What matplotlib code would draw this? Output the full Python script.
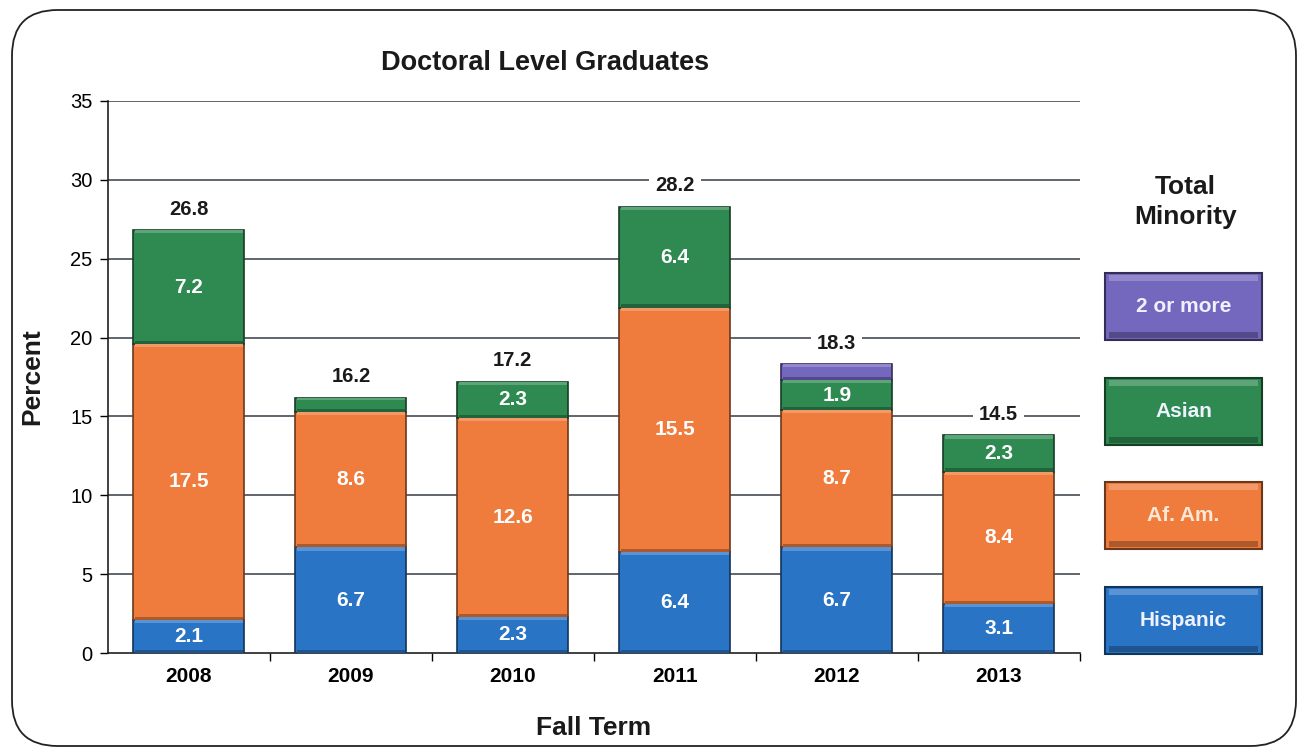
import matplotlib.pyplot as plt
from matplotlib.patches import FancyBboxPatch, Rectangle
import matplotlib.colors as mcolors

# Doctoral level graduates by ethnicity (percent)
years = ['2008', '2009', '2010', '2011', '2012', '2013']
hispanic = [2.1, 6.7, 2.3, 6.4, 6.7, 3.1]
af_am = [17.5, 8.6, 12.6, 15.5, 8.7, 8.4]
asian = [7.2, 0.9, 2.3, 6.4, 1.9, 2.3]
two_more = [0, 0, 0, 0, 1.0, 0]
totals = [26.8, 16.2, 17.2, 28.2, 18.3, 14.5]

hisp_labels = ['2.1', '6.7', '2.3', '6.4', '6.7', '3.1']
afam_labels = ['17.5', '8.6', '12.6', '15.5', '8.7', '8.4']
asian_labels = ['7.2', '', '2.3', '6.4', '1.9', '2.3']

series_names = ['Hispanic', 'Af. Am.', 'Asian', '2 or more']
colors = ['#2a74c6', '#ef7c3c', '#2f8a52', '#7467be']

plt.rcParams['font.family'] = ['Liberation Sans', 'DejaVu Sans']

fig = plt.figure(figsize=(13.04, 7.52), dpi=100)
ax = fig.add_axes([0.0828, 0.1316, 0.7452, 0.7341])


def shade(c, f):
    r, g, b = mcolors.to_rgb(c)
    if f < 1:
        return (r * f, g * f, b * f)
    return (r + (1 - r) * (f - 1), g + (1 - g) * (f - 1), b + (1 - b) * (f - 1))


def bevel_bar(x, bottom, h, color, width=0.685):
    if h <= 0:
        return
    ax.bar(x, h, width, bottom=bottom, color=color,
           edgecolor=shade(color, 0.45), linewidth=1.2, zorder=3)
    # light strip on top, dark strip at bottom
    s = min(0.2, h * 0.18)
    ax.bar(x, s, width * 0.97, bottom=bottom + h - s, color=shade(color, 1.22),
           linewidth=0, zorder=4)
    ax.bar(x, s, width * 0.97, bottom=bottom, color=shade(color, 0.72),
           linewidth=0, zorder=4)


xs = list(range(len(years)))
for i in xs:
    base = 0
    for vals, c in zip([hispanic, af_am, asian, two_more], colors):
        bevel_bar(i, base, vals[i], c)
        base += vals[i]

# segment labels
for i in xs:
    base = 0
    for vals, labs in zip([hispanic, af_am, asian], [hisp_labels, afam_labels, asian_labels]):
        if labs[i]:
            ax.text(i, base + vals[i] / 2, labs[i], ha='center', va='center',
                    color='white', fontsize=15, fontweight='bold', zorder=5)
        base += vals[i]
    top = hispanic[i] + af_am[i] + asian[i] + two_more[i]
    ax.text(i, top + 1.35, f'{totals[i]:.1f}', ha='center', va='center',
            fontsize=14.5, fontweight='bold', color='#1a1a1a', zorder=5,
            bbox=dict(boxstyle='square,pad=0.3', fc='white', ec='none'))

ax.set_xlim(-0.5, 5.5)
ax.set_ylim(0, 35)
ax.set_yticks(range(0, 36, 5))
ax.tick_params(axis='y', labelsize=14.5, length=6, direction='out', width=1, pad=5)
ax.set_xticks(xs)
ax.set_xticklabels(years, fontsize=15, fontweight='bold')
ax.tick_params(axis='x', which='major', length=0, pad=10)
ax.set_xticks([0.5, 1.5, 2.5, 3.5, 4.5, 5.5], minor=True)
ax.tick_params(axis='x', which='minor', length=6, direction='out', width=1)
for y in range(5, 36, 5):
    ax.axhline(y, color='#363b46', linewidth=1.1, zorder=1)
for sp in ['top', 'right']:
    ax.spines[sp].set_visible(False)
for sp in ['left', 'bottom']:
    ax.spines[sp].set_linewidth(1.2)
    ax.spines[sp].set_color('#202020')

ax.set_ylabel('Percent', fontsize=19, fontweight='bold', color='#1a1a1a')
ax.yaxis.set_label_coords(-0.066, 0.5)
ax.set_xlabel('Fall Term', fontsize=19, fontweight='bold', color='#1a1a1a')
ax.xaxis.set_label_coords(0.5, -0.114)
fig.text(0.418, 0.916, 'Doctoral Level Graduates', ha='center', va='center',
         fontsize=19.5, fontweight='bold', color='#1a1a1a')

# legend boxes on the right
fig.text(0.909, 0.731, 'Total\nMinority', ha='center', va='center',
         fontsize=19, fontweight='bold', color='#1a1a1a', linespacing=1.3)
box_tops = [587, 482, 378, 273]
for name, c, ty in zip(series_names, colors, box_tops):
    x0, y0 = 1105 / 1304, 1 - (ty + 67) / 752
    w, h = 157 / 1304, 67 / 752
    fig.patches.append(Rectangle((x0, y0), w, h, transform=fig.transFigure,
                                 fc=c, ec=shade(c, 0.45), lw=1.5))
    fig.patches.append(Rectangle((x0 + 0.003, y0 + h - 0.011), w - 0.006, 0.008,
                                 transform=fig.transFigure, fc=shade(c, 1.22), ec='none'))
    fig.patches.append(Rectangle((x0 + 0.003, y0 + 0.003), w - 0.006, 0.008,
                                 transform=fig.transFigure, fc=shade(c, 0.72), ec='none'))
    tc = '#ffe8d8' if name == 'Af. Am.' else '#eef2ff'
    fig.text(x0 + w / 2, y0 + h / 2, name, ha='center', va='center',
             fontsize=15, fontweight='bold', color=tc)

# rounded frame round the chart
fig.patches.append(FancyBboxPatch((12 / 1304, 6 / 752), 1284 / 1304, 736 / 752,
                                  boxstyle='round,pad=0,rounding_size=0.035',
                                  transform=fig.transFigure, fc='none',
                                  ec='#222222', lw=1.3, mutation_aspect=1304 / 752))

fig.savefig('out.png', dpi=100)
